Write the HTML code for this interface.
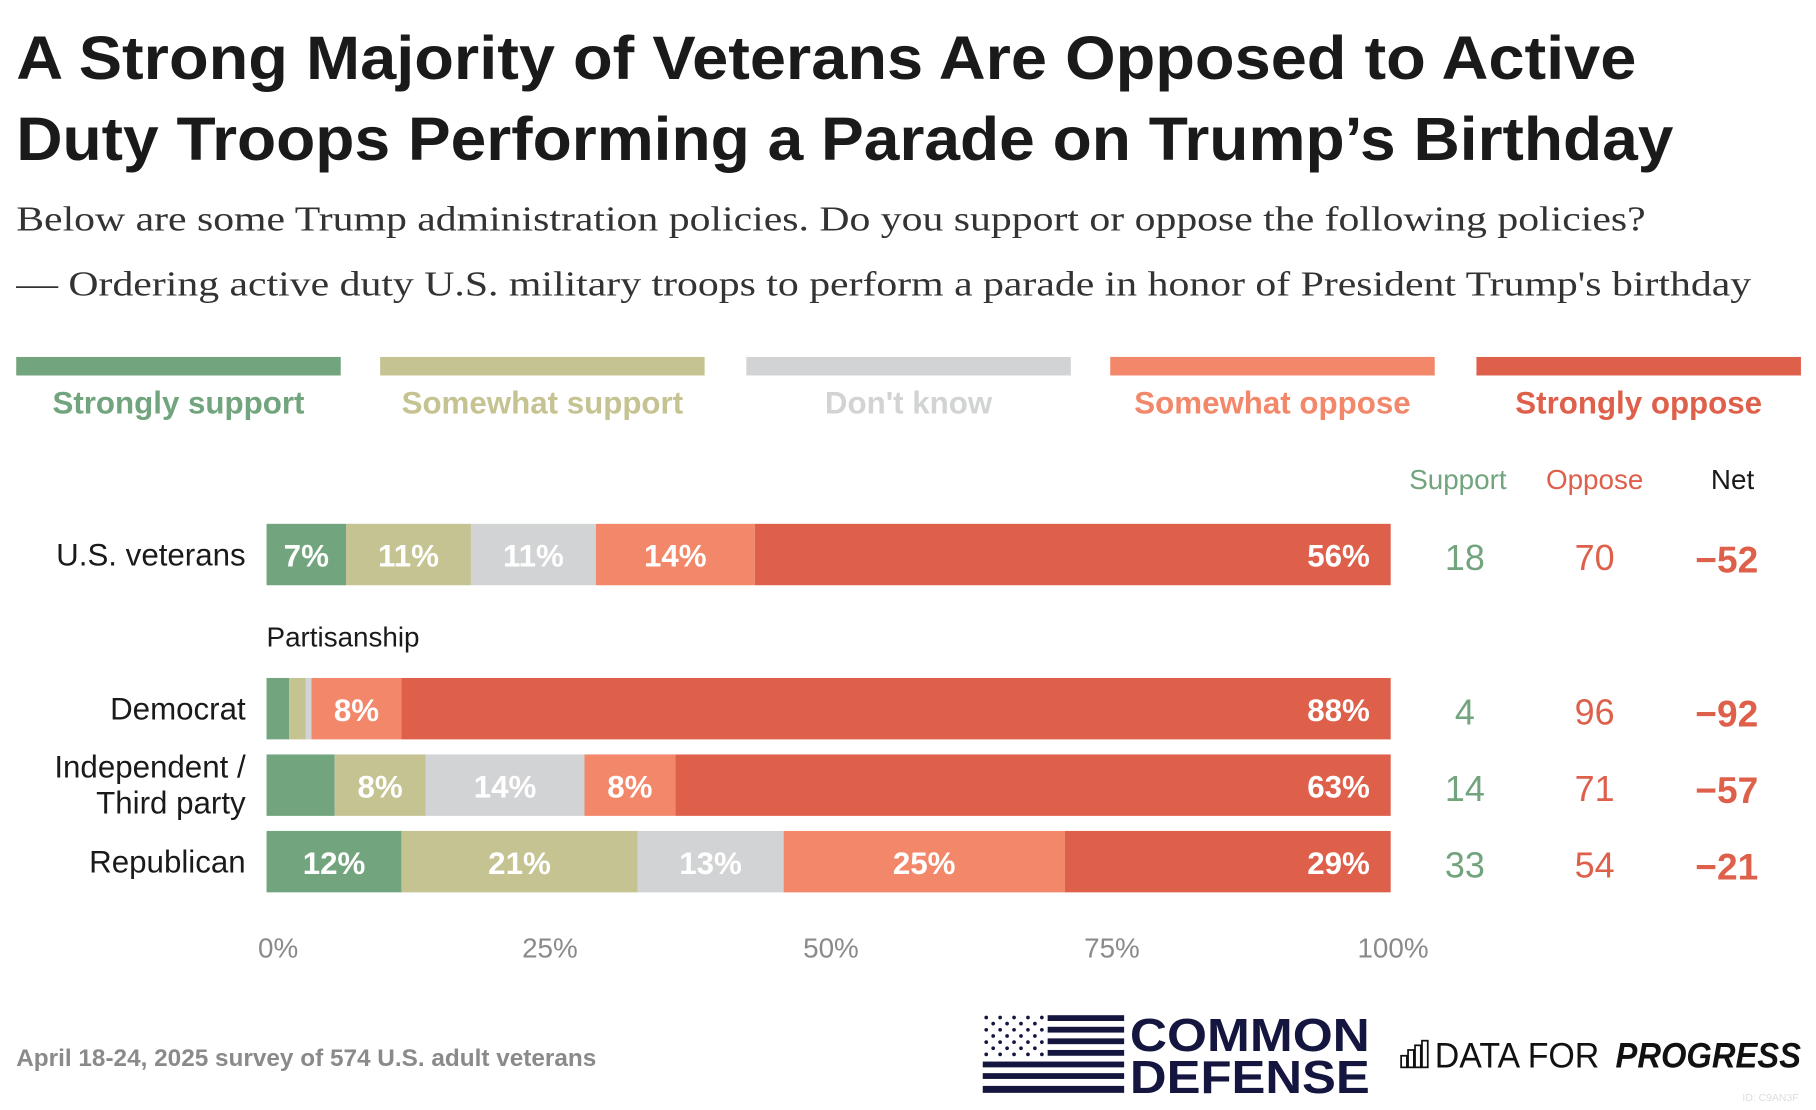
<!DOCTYPE html>
<html><head><meta charset="utf-8"><style>
html,body{margin:0;padding:0;background:#fff;}
svg{display:block;font-family:"Liberation Sans",sans-serif;}
</style></head><body>
<svg id="chart" width="1816" height="1110" viewBox="0 0 1567 957.8" xmlns="http://www.w3.org/2000/svg">
<text x="14" y="68" font-size="53" font-weight="bold" fill="#1a1a1a" textLength="1398" lengthAdjust="spacingAndGlyphs">A Strong Majority of Veterans Are Opposed to Active</text>
<text x="14" y="138" font-size="53" font-weight="bold" fill="#1a1a1a" textLength="1430" lengthAdjust="spacingAndGlyphs">Duty Troops Performing a Parade on Trump’s Birthday</text>
<text x="14" y="199" font-size="30" fill="#333" font-family="Liberation Serif, serif" textLength="1406" lengthAdjust="spacingAndGlyphs">Below are some Trump administration policies. Do you support or oppose the following policies?</text>
<text x="14" y="255" font-size="30" fill="#333" font-family="Liberation Serif, serif" textLength="1497" lengthAdjust="spacingAndGlyphs">— Ordering active duty U.S. military troops to perform a parade in honor of President Trump's birthday</text>
<g id="legend"></g>
<g id="headers">
<text x="1258" y="422" font-size="24" fill="#72a47e" text-anchor="middle">Support</text>
<text x="1376" y="422" font-size="24" fill="#de604b" text-anchor="middle">Oppose</text>
<text x="1495" y="422" font-size="24" fill="#1a1a1a" text-anchor="middle">Net</text>
</g>
<text x="230" y="558" font-size="24" fill="#1a1a1a">Partisanship</text>
<g id="bars"></g>
<g id="axis"></g>
<text x="14" y="920" font-size="21" font-weight="bold" fill="#8a8a8a">April 18-24, 2025 survey of 574 U.S. adult veterans</text>
<g>
<g id="stars"></g>
<rect x="904" y="876" width="66" height="5" fill="#14163f"/>
<rect x="904" y="886" width="66" height="5" fill="#14163f"/>
<rect x="904" y="896" width="66" height="5" fill="#14163f"/>
<rect x="904" y="906" width="66" height="5" fill="#14163f"/>
<rect x="848" y="916" width="122" height="5" fill="#14163f"/>
<rect x="848" y="926" width="122" height="5" fill="#14163f"/>
<rect x="848" y="937" width="122" height="6" fill="#14163f"/>
<text x="975" y="907" font-size="40" font-weight="bold" fill="#14163f" textLength="207" lengthAdjust="spacingAndGlyphs">COMMON</text>
<text x="975" y="943" font-size="40" font-weight="bold" fill="#14163f" textLength="207" lengthAdjust="spacingAndGlyphs">DEFENSE</text>
</g>
<g>
<g fill="none" stroke="#111" stroke-width="1.5"><rect x="1209" y="911" width="5" height="10"/><rect x="1215" y="906" width="5" height="15"/><rect x="1221" y="902" width="5" height="19"/><rect x="1227" y="898" width="5" height="23"/></g>
<text x="1238" y="921" font-size="30" fill="#111" textLength="142" lengthAdjust="spacingAndGlyphs">DATA FOR</text>
<text x="1394" y="921" font-size="30" font-weight="bold" font-style="italic" fill="#111" textLength="160" lengthAdjust="spacingAndGlyphs">PROGRESS</text>
</g>
<text x="1552" y="950" font-size="9" fill="#ddd" text-anchor="end">ID: C9AN3F</text>
</svg>
<script>
const categories = ["U.S. veterans", "Democrat", "Independent / Third party", "Republican"];
const strongSupport = [7, 2, 6, 12];
const someSupport = [11, 1.5, 8, 21];
const dontKnow = [11, 0.5, 14, 13];
const someOppose = [14, 8, 8, 25];
const strongOppose = [56, 88, 63, 29];
const supportTotal = [18, 4, 14, 33];
const opposeTotal = [70, 96, 71, 54];
const netValues = [-52, -92, -57, -21];
const seriesNames = ["Strongly support", "Somewhat support", "Don't know", "Somewhat oppose", "Strongly oppose"];
const ticks = [0, 25, 50, 75, 100];

const NS = "http://www.w3.org/2000/svg";
const colors = ["#72a47e", "#c5c392", "#d2d3d4", "#f2876a", "#de604b"];
const rowTop = [452, 585, 651, 717];
const barH = 53, X0 = 230, X1 = 1200;
const xs = v => X0 + (X1 - X0) * v / 100;
function mk(tag, attrs, parent, txt) {
  const e = document.createElementNS(NS, tag);
  for (const k in attrs) e.setAttribute(k, attrs[k]);
  if (txt !== undefined) e.textContent = txt;
  parent.appendChild(e);
  return e;
}
const lg = document.getElementById("legend");
const lx = [14, 328, 644, 958, 1274];
seriesNames.forEach((n, i) => {
  const r = mk("rect", {x: lx[i], y: 308, width: 280, height: 16, fill: colors[i]}, lg);
  
  
  const t = mk("text", {x: lx[i] + 140, y: 357, "font-size": 27, "font-weight": "bold", fill: colors[i], "text-anchor": "middle"}, lg, n);
  
  
});
const bg = document.getElementById("bars");
const series = [strongSupport, someSupport, dontKnow, someOppose, strongOppose];
categories.forEach((c, r) => {
  const y = rowTop[r];
  const total = series.reduce((s, a) => s + a[r], 0);
  if (c.includes("/")) {
    const t1 = mk("text", {x: 212, y: y + 20, "font-size": 27, fill: "#1a1a1a", "text-anchor": "end"}, bg, "Independent /");
    
    
    const t2 = mk("text", {x: 212, y: y + 51, "font-size": 27, fill: "#1a1a1a", "text-anchor": "end"}, bg, "Third party");
    
    
  } else {
    const t = mk("text", {x: 212, y: y + 36, "font-size": 27, fill: "#1a1a1a", "text-anchor": "end"}, bg, c);
    
    
  }
  let cum = 0;
  series.forEach((s, i) => {
    const v = s[r] / total * 100;
    const xa = xs(cum), xb = xs(cum + v);
    const rect = mk("rect", {x: xa, y: y, width: Math.max(0, xb - xa), height: barH, fill: colors[i]}, bg);
    
    
    if (s[r] >= 7) {
      const last = i === 4;
      const t = mk("text", {x: last ? xb - 18 : (xa + xb) / 2, y: y + 37, "font-size": 27, "font-weight": "bold", fill: "#fff", "text-anchor": last ? "end" : "middle"}, bg, Math.round(s[r]) + "%");
      
      
    }
    cum += v;
  });
  const ts = mk("text", {x: 1264, y: y + 40, "font-size": 31, fill: "#72a47e", "text-anchor": "middle"}, bg, supportTotal[r]);
  
  
  const to = mk("text", {x: 1376, y: y + 40, "font-size": 31, fill: "#de604b", "text-anchor": "middle"}, bg, opposeTotal[r]);
  
  
  const tn = mk("text", {x: 1490, y: y + 42, "font-size": 32, "font-weight": "bold", fill: "#de604b", "text-anchor": "middle"}, bg, (netValues[r] < 0 ? "\u2212" : "+") + Math.abs(netValues[r]));
  
  
});
const ax = document.getElementById("axis");
ticks.forEach(t => {
  const e = mk("text", {x: xs(t) + (t === 0 ? 10 : 2), y: 826, "font-size": 24, fill: "#8a8a8a", "text-anchor": "middle"}, ax, t + "%");
  
  
});
const st = document.getElementById("stars");
for (let rr = 0; rr < 7; rr++) for (let cc = 0; cc < 9; cc++) {
  if ((rr + cc) % 2) continue;
  mk("circle", {cx: 851 + cc * 6, cy: 878 + rr * 5.3, r: 1.6, fill: "#14163f"}, st);
}
</script>
</body></html>
